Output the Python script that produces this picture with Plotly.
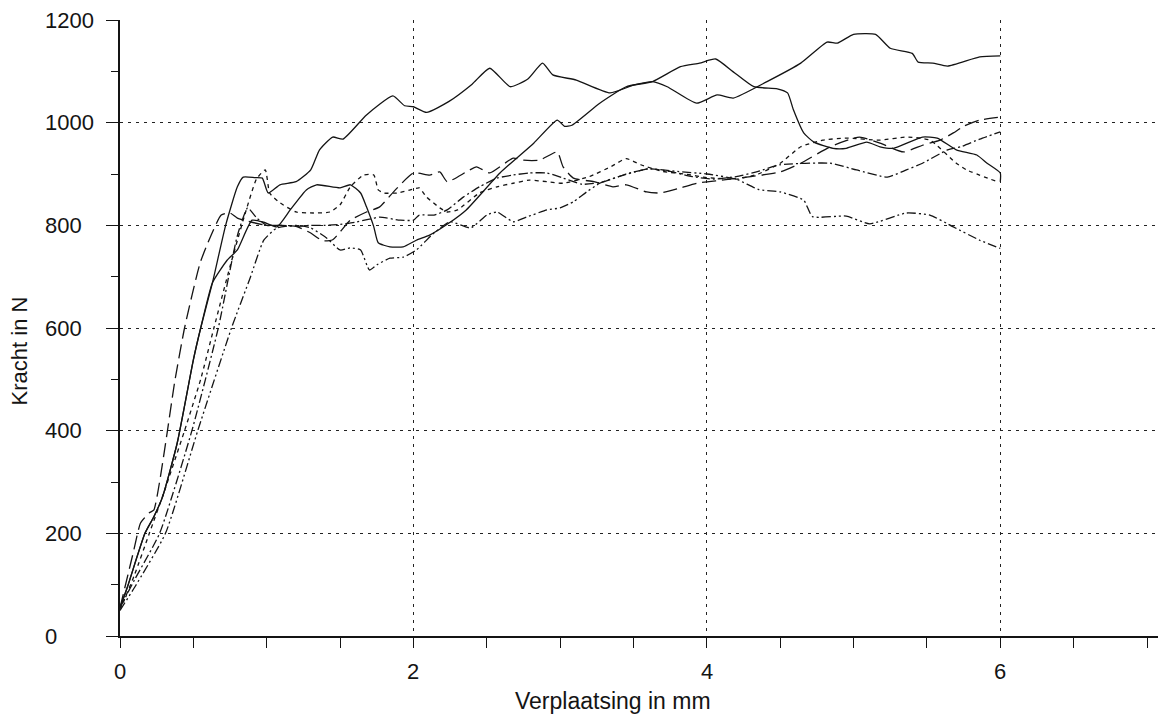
import plotly.graph_objects as go

x_solid_a = [0, 0.05, 0.17, 0.23, 0.29, 0.39, 0.5, 0.55, 0.63, 0.72, 0.8, 0.84, 0.92, 0.97, 1.01,
             1.09, 1.2, 1.3, 1.36, 1.45, 1.52, 1.68, 1.86, 1.94, 2.0, 2.09, 2.24, 2.4, 2.52, 2.66,
             2.78, 2.88, 2.95, 3.11, 3.34, 3.5, 3.63, 3.73, 3.93, 4.07, 4.18, 4.41, 4.64, 4.82,
             4.89, 5.0, 5.15, 5.25, 5.4, 5.44, 5.54, 5.64, 5.86, 6.0]
y_solid_a = [55, 95, 200, 232, 271, 376, 538, 600, 688, 800, 875, 894, 893, 892, 863,
             879, 885, 908, 947, 972, 968, 1015, 1052, 1033, 1031, 1020, 1041, 1075, 1106, 1070,
             1085, 1116, 1093, 1083, 1058, 1073, 1080, 1070, 1038, 1054, 1048, 1080, 1116, 1157,
             1155, 1172, 1172, 1145, 1135, 1118, 1116, 1110, 1128, 1130]

x_solid_b = [0, 0.05, 0.17, 0.23, 0.29, 0.39, 0.5, 0.55, 0.63, 0.73, 0.8, 0.9, 0.98, 1.07, 1.16,
             1.27, 1.34, 1.5, 1.57, 1.64, 1.68, 1.73, 1.76, 1.84, 1.93, 2.02, 2.11, 2.24, 2.36,
             2.59, 2.82, 2.98, 3.03, 3.08, 3.27, 3.45, 3.63, 3.82, 3.95, 4.06, 4.18, 4.32, 4.48,
             4.55, 4.59, 4.66, 4.73, 4.86, 4.95, 5.09, 5.18, 5.27, 5.47, 5.57, 5.7, 5.84, 5.91,
             6.0, 6.0]
y_solid_b = [55, 95, 200, 232, 271, 376, 538, 600, 688, 732, 752, 810, 806, 797, 830,
             869, 879, 873, 879, 863, 836, 797, 766, 758, 758, 771, 781, 804, 830,
             902, 960, 1005, 993, 995, 1038, 1070, 1080, 1109, 1116, 1124, 1099, 1070, 1066,
             1058, 1025, 980, 962, 950, 950, 962, 953, 950, 972, 970, 947, 937, 921,
             902, 885]

x_longdash = [0, 0.09, 0.14, 0.2, 0.23, 0.375, 0.44, 0.55, 0.69, 0.75, 0.8, 0.9, 1.0, 1.1, 1.2,
              1.3, 1.38, 1.45, 1.57, 1.68, 1.77, 1.88, 2.0, 2.11, 2.18, 2.23, 2.36, 2.43, 2.52,
              2.68, 2.75, 2.86, 2.98, 3.02, 3.09, 3.23, 3.36, 3.45, 3.59, 3.68, 3.82, 3.95, 4.1,
              4.3, 4.5, 4.64, 4.84, 5.04, 5.18, 5.34, 5.47, 5.59, 5.68, 5.75, 5.86, 6.0]
y_longdash = [55, 162, 220, 240, 245, 499, 600, 730, 820, 824, 814, 806, 800, 800, 798,
              785, 770, 772, 810, 826, 836, 870, 902, 898, 904, 885, 904, 914, 902,
              931, 927, 927, 943, 914, 892, 885, 875, 879, 865, 863, 873, 883, 888,
              895, 904, 921, 953, 972, 960, 943, 956, 966, 980, 993, 1005, 1011]

x_shortdash = [0, 0.1, 0.2, 0.3, 0.44, 0.55, 0.64, 0.75, 0.85, 0.93, 0.99, 1.02, 1.08, 1.2, 1.32,
               1.43, 1.5, 1.57, 1.66, 1.73, 1.76, 1.8, 1.89, 1.98, 2.04, 2.09, 2.18, 2.23, 2.3,
               2.45, 2.57, 2.68, 2.79, 2.91, 3.02, 3.2, 3.35, 3.45, 3.55, 3.7, 3.85, 4.0, 4.2,
               4.35, 4.5, 4.64, 4.79, 4.95, 5.18, 5.36, 5.52, 5.7, 5.77, 5.98]
y_shortdash = [50, 120, 200, 280, 400, 500, 600, 720, 820, 890, 908, 863, 846, 826, 824,
               826, 840, 875, 898, 898, 869, 863, 863, 869, 873, 855, 834, 826, 830,
               863, 875, 882, 888, 885, 882, 895, 915, 930, 918, 905, 900, 893, 890,
               900, 921, 953, 966, 970, 966, 972, 966, 921, 908, 885]

x_dashdot = [0, 0.1, 0.27, 0.49, 0.67, 0.8, 0.87, 0.93, 1.0, 1.1, 1.2, 1.3, 1.4, 1.5, 1.6,
             1.7, 1.77, 1.91, 2.0, 2.04, 2.14, 2.23, 2.34, 2.45, 2.57, 2.68, 2.79, 2.91, 3.02,
             3.15, 3.3, 3.45, 3.6, 3.75, 3.9, 4.05, 4.2, 4.35, 4.5, 4.84, 5.02, 5.23, 5.36,
             5.47, 5.64, 5.73, 5.86, 6.0]
y_dashdot = [55, 110, 200, 400, 600, 780, 834, 815, 800, 800, 798, 800, 800, 802, 806,
             812, 816, 810, 810, 820, 820, 830, 855, 875, 892, 898, 902, 902, 892,
             880, 885, 900, 910, 905, 895, 890, 895, 905, 918, 921, 908, 894, 908,
             921, 947, 953, 968, 982]

x_dashdotdot = [0, 0.1, 0.31, 0.53, 0.76, 0.89, 0.98, 1.07, 1.2, 1.3, 1.41, 1.5, 1.57, 1.64, 1.7,
                1.75, 1.84, 1.93, 2.02, 2.14, 2.25, 2.39, 2.5, 2.57, 2.68, 2.77, 2.91, 3.0, 3.09,
                3.18, 3.27, 3.4, 3.6, 3.8, 4.0, 4.2, 4.35, 4.5, 4.66, 4.72, 4.95, 5.11, 5.36,
                5.52, 5.68, 5.86, 6.0]
y_dashdotdot = [50, 95, 200, 400, 600, 700, 771, 795, 800, 795, 775, 752, 756, 752, 713,
                723, 736, 738, 752, 785, 807, 795, 820, 826, 807, 816, 830, 834, 846,
                865, 882, 895, 910, 905, 900, 890, 870, 865, 849, 817, 818, 803, 824,
                820, 797, 771, 755]

x_labels = [0, 2, 4, 6]
y_labels = [0, 200, 400, 600, 800, 1000, 1200]
y_minor = [100, 300, 500, 700, 900, 1100]

ink = "#141414"
font = "Liberation Sans, Arial, sans-serif"

curves = [
    (x_solid_a, y_solid_a, "solid"),
    (x_solid_b, y_solid_b, "solid"),
    (x_longdash, y_longdash, "14px,6px"),
    (x_shortdash, y_shortdash, "4px,4px"),
    (x_dashdot, y_dashdot, "9px,3px,2px,3px"),
    (x_dashdotdot, y_dashdotdot, "9px,3px,2px,3px,2px,3px"),
]

fig = go.Figure()
for xs, ys, dash in curves:
    fig.add_trace(go.Scatter(x=xs, y=ys, mode="lines", showlegend=False, hoverinfo="skip",
                             line=dict(color=ink, width=1.3, dash=dash,
                                       shape="spline", smoothing=0.5)))

# page body has an 8px margin, so the figure is sized to fit the 1166x722 window
xr = [0, 7.075]
yr = [0, 1200]

fig.update_layout(
    width=1150, height=706,
    margin=dict(l=112, r=0, t=12, b=78),
    paper_bgcolor="white", plot_bgcolor="white",
    font=dict(family=font, color=ink, size=21),
    xaxis=dict(range=xr, tick0=0, dtick=2, ticks="outside", ticklen=10, tickcolor=ink,
               tickwidth=1.2, showticklabels=False, showgrid=True, gridcolor="#222",
               griddash="3px,5px", gridwidth=1, showline=True, linecolor=ink, linewidth=1.5,
               zeroline=False,
               minor=dict(dtick=0.5, tick0=0, ticks="outside", ticklen=10, tickcolor=ink,
                          tickwidth=1.2, showgrid=False)),
    xaxis2=dict(range=xr, overlaying="x", anchor="y", side="bottom", tick0=0, dtick=0.5,
                ticks="inside", ticklen=4, tickcolor=ink, tickwidth=1.2,
                showticklabels=False, showgrid=False, showline=False, zeroline=False),
    yaxis=dict(range=yr, tick0=0, dtick=200, ticks="outside", ticklen=12, tickcolor=ink,
               tickwidth=1.2, showticklabels=False, showgrid=True, gridcolor="#222",
               griddash="3px,5px", gridwidth=1, showline=True, linecolor=ink, linewidth=1.5,
               zeroline=False,
               minor=dict(dtick=100, tick0=0, ticks="outside", ticklen=7, tickcolor=ink,
                          tickwidth=1.2, showgrid=False)),
    yaxis2=dict(range=yr, overlaying="y", anchor="x", side="left", tickmode="array",
                tickvals=y_minor, ticks="inside", ticklen=7, tickcolor=ink, tickwidth=1.2,
                showticklabels=False, showgrid=False, showline=False, zeroline=False),
)

for v in y_labels:
    fig.add_annotation(text=str(v), xref="paper", x=-0.074, xanchor="left",
                       yref="y", y=v, yanchor="middle", showarrow=False,
                       font=dict(size=22))

for v in x_labels:
    fig.add_annotation(text=str(v), xref="x", x=v, xanchor="center",
                       yref="paper", y=-0.058, yanchor="middle", showarrow=False,
                       font=dict(size=22))

fig.add_annotation(text="Verplaatsing in mm", xref="x", x=3.36, xanchor="center",
                   yref="paper", y=-0.106, yanchor="middle", showarrow=False,
                   font=dict(size=23))
fig.add_annotation(text="Kracht in N", textangle=-90, xref="paper", x=-0.097,
                   xanchor="center", yref="y", y=555, yanchor="middle", showarrow=False,
                   font=dict(size=22))

fig.write_html("out.html")
